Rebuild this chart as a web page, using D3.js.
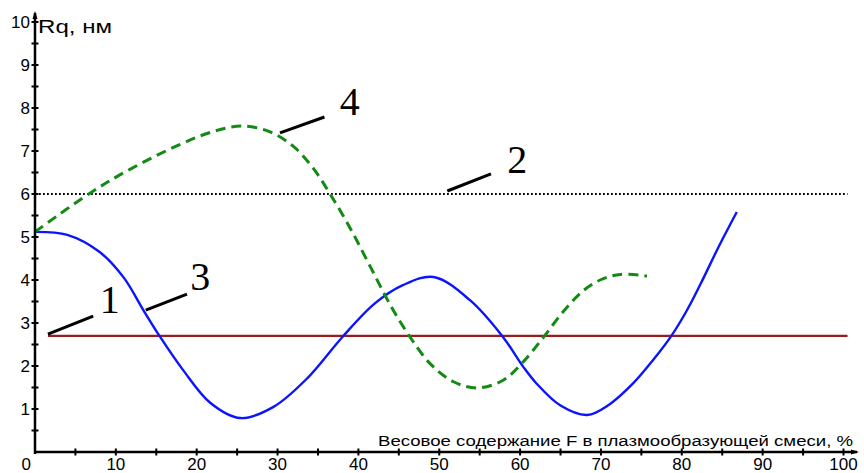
<!DOCTYPE html>
<html>
<head>
<meta charset="utf-8">
<script src="https://cdn.jsdelivr.net/npm/d3@7"></script>
<style>
  body { margin: 0; background: #fff; }
  text { font-family: "Liberation Sans", Arial, sans-serif; }
</style>
</head>
<body>
<div id="chart"></div>
<script>
// Data
const xTicks = [0, 10, 20, 30, 40, 50, 60, 70, 80, 90, 100];
const yTicks = [1, 2, 3, 4, 5, 6, 7, 8, 9, 10];

// curve 1 - constant level (dark red)
const level1 = 2.7;
const level1Range = [1.6, 100.5];
// curve 2 - constant level (dotted)
const level2 = 6.0;
const level2Range = [0, 100.5];

// curve 3 - blue solid
const curve3X = [0, 4, 8, 11, 13.4, 15.5, 18.3, 21.7, 25.4, 29.5, 33.7, 38, 42, 45.5, 49.3, 53.8, 57.9, 60.4, 62, 65, 68.3, 71, 74, 76.5, 78.6, 80.5, 82.3, 84.5, 86.8];
const curve3Y = [5.12, 5.05, 4.65, 4.05, 3.3, 2.67, 1.91, 1.14, 0.79, 1.05, 1.72, 2.67, 3.45, 3.88, 4.07, 3.53, 2.67, 1.98, 1.6, 1.08, 0.86, 1.1, 1.6, 2.15, 2.67, 3.25, 3.9, 4.75, 5.58];

// curve 4 - green dashed
const curve4X = [0, 6.8, 11.8, 17.9, 22, 25.5, 29, 32, 34.4, 36.5, 39, 41.5, 44, 46.4, 48.9, 51.7, 54.7, 57.9, 60.4, 62.9, 65.4, 67.8, 69.9, 72.4, 75.7];
const curve4Y = [5.12, 6.02, 6.58, 7.15, 7.45, 7.58, 7.45, 7.1, 6.6, 6.0, 5.2, 4.3, 3.4, 2.67, 2.05, 1.64, 1.49, 1.67, 2.1, 2.67, 3.28, 3.75, 4.0, 4.13, 4.09];

// curve numbers with their leader lines (data coords)
const labelNames = ["1", "3", "4", "2"];
const labelX = [8.0, 19.2, 37.7, 58.4];
const labelY = [3.23, 3.77, 7.84, 6.49];
const leaderFrom = [[1.6, 2.74], [13.7, 3.3], [30.3, 7.42], [51.0, 6.07]];
const leaderTo = [[7.2, 3.16], [18.8, 3.67], [35.8, 7.79], [56.4, 6.47]];

const yTitle = "Rq, нм";
const xTitle = "Весовое содержание F в плазмообразующей смеси, %";

const width = 864;
const height = 473;

const svg = d3.select("#chart").append("svg")
  .attr("width", width)
  .attr("height", height);

const x = d3.scaleLinear().domain([0, 100]).range([35, 843.5]);
const y = d3.scaleLinear().domain([0, 10]).range([452, 22]);

const line = d3.line()
  .x((d) => x(d[0]))
  .y((d) => y(d[1]))
  .curve(d3.curveCatmullRom.alpha(0.5));

// constant levels
svg.append("line")
  .attr("x1", x(level1Range[0])).attr("x2", x(level1Range[1]))
  .attr("y1", y(level1)).attr("y2", y(level1))
  .style("stroke", "#9b1c1c")
  .style("stroke-width", 2.2);

svg.append("line")
  .attr("x1", x(level2Range[0])).attr("x2", x(level2Range[1]))
  .attr("y1", y(level2)).attr("y2", y(level2))
  .style("stroke", "#000")
  .style("stroke-width", 1.8)
  .style("stroke-dasharray", "1.8,2.2");

// curves
svg.append("path")
  .attr("d", line(curve3X.map((v, i) => [v, curve3Y[i]])))
  .style("fill", "none")
  .style("stroke", "#0a14ff")
  .style("stroke-width", 2.4);

svg.append("path")
  .attr("d", line(curve4X.map((v, i) => [v, curve4Y[i]])))
  .style("fill", "none")
  .style("stroke", "#138a13")
  .style("stroke-width", 3)
  .style("stroke-dasharray", "10,6");

// leaders and numbers
labelNames.forEach((name, i) => {
  svg.append("line")
    .attr("x1", x(leaderFrom[i][0])).attr("y1", y(leaderFrom[i][1]))
    .attr("x2", x(leaderTo[i][0])).attr("y2", y(leaderTo[i][1]))
    .style("stroke", "#000")
    .style("stroke-width", 3);
  svg.append("text")
    .attr("x", x(labelX[i]))
    .attr("y", y(labelY[i]))
    .style("font-family", "'Liberation Serif', 'Times New Roman', serif")
    .style("font-size", "40px")
    .text(name);
});

// axes
const axisG = svg.append("g");
axisG.append("line")
  .attr("x1", x(0)).attr("x2", 857)
  .attr("y1", y(0)).attr("y2", y(0))
  .style("stroke", "#000").style("stroke-width", 2.5);
axisG.append("line")
  .attr("x1", x(0)).attr("x2", x(0))
  .attr("y1", y(0) + 2).attr("y2", 13)
  .style("stroke", "#000").style("stroke-width", 2.5);

// arrow heads
axisG.append("path")
  .attr("d", `M${x(0) - 2.5},${19} L${x(0)},${11} L${x(0) + 2.5},${19} Z`)
  .style("fill", "#000");
axisG.append("path")
  .attr("d", `M${851},${y(0) - 2.5} L${859},${y(0)} L${851},${y(0) + 2.5} Z`)
  .style("fill", "#000");

// tick marks every half unit / every 5 %
const yMinor = d3.range(0.5, 10.01, 0.5);
axisG.selectAll(".ytick").data(yMinor).join("line")
  .attr("x1", x(0) - 3.5).attr("x2", x(0) + 3.5)
  .attr("y1", (d) => y(d)).attr("y2", (d) => y(d))
  .style("stroke", "#000").style("stroke-width", 2);
const xMinor = d3.range(5, 100.01, 5);
axisG.selectAll(".xtick").data(xMinor).join("line")
  .attr("x1", (d) => x(d)).attr("x2", (d) => x(d))
  .attr("y1", y(0) - 3.5).attr("y2", y(0) + 3.5)
  .style("stroke", "#000").style("stroke-width", 2);

// tick labels
axisG.selectAll(".ylab").data(yTicks).join("text")
  .attr("x", x(0) - 5)
  .attr("y", (d) => y(d) + 6)
  .attr("text-anchor", "end")
  .style("font-size", "17px")
  .text((d) => d);
axisG.selectAll(".xlab").data(xTicks).join("text")
  .attr("x", (d) => (d === 0 ? x(0) - 4 : x(d)))
  .attr("y", 470)
  .attr("text-anchor", (d) => (d === 0 ? "end" : "middle"))
  .style("font-size", "17px")
  .text((d) => d);

// axis titles
svg.append("text")
  .attr("x", 38)
  .attr("y", 33)
  .attr("textLength", 74)
  .attr("lengthAdjust", "spacingAndGlyphs")
  .style("font-size", "19px")
  .text(yTitle);

svg.append("text")
  .attr("x", 378)
  .attr("y", 446)
  .attr("textLength", 475)
  .attr("lengthAdjust", "spacingAndGlyphs")
  .style("font-size", "15.5px")
  .text(xTitle);
</script>
</body>
</html>
